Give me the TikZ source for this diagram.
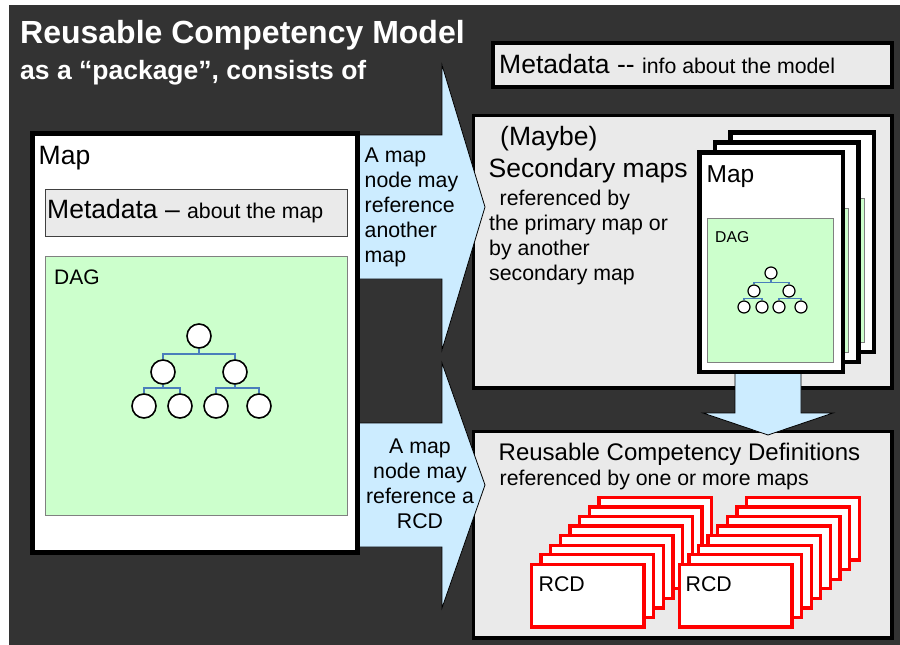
\documentclass[tikz,border=0pt]{standalone}
\usepackage{fontspec}
\setmainfont{Liberation Sans}
\definecolor{bg}{HTML}{333333}
\definecolor{boxgray}{HTML}{EAEAEA}
\definecolor{ltblue}{HTML}{CCECFF}
\definecolor{ltgreen}{HTML}{CCFFCC}
\definecolor{treeblue}{HTML}{4A7EBB}
\newcommand{\fsz}[1]{\fontsize{#1}{#1}\selectfont}
\tikzset{
  txt/.style={inner sep=0pt, anchor=base west, text=black},
  ttl/.style={inner sep=0pt, anchor=base west, text=white},
  graybox/.style={draw=black, fill=boxgray, anchor=north west, inner sep=0pt},
  whitebox/.style={draw=black, fill=white, anchor=north west, inner sep=0pt},
  greenbox/.style={draw=gray, fill=ltgreen, line width=1pt, anchor=north west, inner sep=0pt},
  arrowst/.style={fill=ltblue, draw=black, line width=0.8pt, line join=miter},
  tnode/.style={circle, draw=black, fill=white, inner sep=0pt},
  tline/.style={draw=treeblue},
  rcdcard/.style={draw=red, fill=white, line width=3.3pt, anchor=north west, inner sep=0pt,
    minimum width=112.7pt, minimum height=62.7pt},
}
\begin{document}
\begin{tikzpicture}[x=1pt,y=-1pt]
\useasboundingbox (0,0) rectangle (900,645);
\fill[white] (0,0) rectangle (900,645);
\fill[bg] (9,5) rectangle (900,645);

% title
\node[ttl, font=\fsz{32}\bfseries] (title1) at (20,43) {Reusable Competency Model};
\node[ttl, font=\fsz{26.5}\bfseries] (title2) at (20,79) {as a “package”, consists of};

% top metadata
\node[graybox, line width=4pt, minimum width=399pt, minimum height=44pt] (meta) at (491,41) {};
\node[txt] (metat) at (499,73) {\fsz{26.5}Metadata -{}- \fsz{21.3}info about the model};

% secondary maps box and RCD box
\node[graybox, line width=3.5pt, minimum width=418.5pt, minimum height=272.5pt] (secbox) at (471.75,113.75) {};
\node[graybox, line width=3.5pt, minimum width=418.5pt, minimum height=206.5pt] (rcdbox) at (471.75,429.75) {};

% block arrows to the right
\filldraw[arrowst] (350,135) -- (442,135) -- (442,65) -- (485,207) -- (442,350) -- (442,279) -- (350,279) -- cycle;
\filldraw[arrowst] (350,423) -- (442,423) -- (442,363) -- (485,485) -- (442,608) -- (442,547) -- (350,547) -- cycle;

% left map
\node[whitebox, line width=5pt, minimum width=325pt, minimum height=419pt] (map) at (29.5,130.5) {};
\node[txt, font=\fsz{26.5}] (mapt) at (38.5,164) {Map};
\node[graybox, draw=black!75, line width=1pt, minimum width=302pt, minimum height=47pt] (mapmeta) at (44.5,188.5) {};
\node[txt] (mapmetat) at (47,218) {\fsz{26.5}Metadata – \fsz{21.3}about the map};
\node[greenbox, minimum width=302pt, minimum height=259pt] (dag) at (44.5,255.5) {};
\node[txt, font=\fsz{21}] (dagt) at (54,284.5) {DAG};

% left tree
\begin{scope}[every node/.style={tnode, minimum size=24pt, line width=1.6pt}]
\node (r) at (199,336) {};
\node (a) at (163,372) {};
\node (b) at (235,372) {};
\node (a1) at (144,406) {};
\node (a2) at (180,406) {};
\node (b1) at (216,406) {};
\node (b2) at (259,406) {};
\end{scope}
\begin{scope}[tline, line width=1.6pt]
\draw (r.south) -- ++(0,5) -| (a.north);
\draw (r.south) -- ++(0,5) -| (b.north);
\draw (a.south) -- ++(0,3) -| (a1.north);
\draw (a.south) -- ++(0,3) -| (a2.north);
\draw (b.south) -- ++(0,3) -| (b1.north);
\draw (b.south) -- ++(0,3) -| (b2.north);
\end{scope}

% arrow texts
\begin{scope}[every node/.style={txt, font=\fsz{21.3}}]
\node (ar1a) at (364.5,162) {A map};
\node (ar1b) at (364.5,187) {node may};
\node (ar1c) at (364.5,212) {reference};
\node (ar1d) at (364.5,237) {another};
\node (ar1e) at (364.5,262) {map};
\end{scope}
\begin{scope}[every node/.style={txt, anchor=base, font=\fsz{21.3}}]
\node (ar2a) at (420,453) {A map};
\node (ar2b) at (420,478) {node may};
\node (ar2c) at (420,503) {reference a};
\node (ar2d) at (420,528) {RCD};
\end{scope}

% secondary maps text
\node[txt, font=\fsz{26.5}] (maybe) at (500,145) {(Maybe)};
\node[txt, font=\fsz{26.5}] (secm) at (488.5,177) {Secondary maps};
\begin{scope}[every node/.style={txt, font=\fsz{21.3}}]
\node (sec1) at (499.5,205) {referenced by};
\node (sec2) at (489,230) {the primary map or};
\node (sec3) at (489,255) {by another};
\node (sec4) at (489,280) {secondary map};
\end{scope}

% down arrow
\filldraw[arrowst] (735,365) -- (735,413) -- (703,413) -- (768,435) -- (833,413) -- (801,413) -- (801,365) -- cycle;

% map stack
\foreach \dx/\dy/\n in {31/-20/c, 15.5/-10/b, 0/0/a}{
  \node[whitebox, line width=4.5pt, minimum width=143.5pt, minimum height=219.5pt] (mcard\n) at ({697.25+\dx},{150.25+\dy}) {};
  \node[greenbox, minimum width=126pt, minimum height=144pt] (mgreen\n) at ({706.5+\dx},{217.5+\dy}) {};
}
\node[txt, font=\fsz{24.5}] (mmapt) at (706.5,182) {Map};
\node[txt, font=\fsz{15.7}] (mdagt) at (715,242) {DAG};
\begin{scope}[every node/.style={tnode, minimum size=12pt, line width=1.2pt}]
\node (mr) at (771,273) {};
\node (ma) at (754,291) {};
\node (mb) at (789,291) {};
\node (ma1) at (744,307) {};
\node (ma2) at (762,307) {};
\node (mb1) at (779,307) {};
\node (mb2) at (801,307) {};
\end{scope}
\begin{scope}[tline, line width=1.2pt]
\draw (mr.south) -- ++(0,3) -| (ma.north);
\draw (mr.south) -- ++(0,3) -| (mb.north);
\draw (ma.south) -- ++(0,1.2) -| (ma1.north);
\draw (ma.south) -- ++(0,1.2) -| (ma2.north);
\draw (mb.south) -- ++(0,1.2) -| (mb1.north);
\draw (mb.south) -- ++(0,1.2) -| (mb2.north);
\end{scope}

% RCD box text
\node[txt, font=\fsz{24}] (rcdt1) at (498.5,460) {Reusable Competency Definitions};
\node[txt, font=\fsz{21.3}] (rcdt2) at (499.5,485) {referenced by one or more maps};

% RCD card stacks
\foreach \i in {7,6,...,0}{
  \node[rcdcard] (rcdL\i) at ({529.65+9.65*\i},{562.65-9.57*\i}) {};
}
\foreach \i in {7,6,...,0}{
  \node[rcdcard] (rcdR\i) at ({677.65+9.6*\i},{562.65-9.57*\i}) {};
}
\node[txt, font=\fsz{21.3}] (rcdLt) at (538.5,591) {RCD};
\node[txt, font=\fsz{21.3}] (rcdRt) at (685.5,591) {RCD};
\end{tikzpicture}
\end{document}
